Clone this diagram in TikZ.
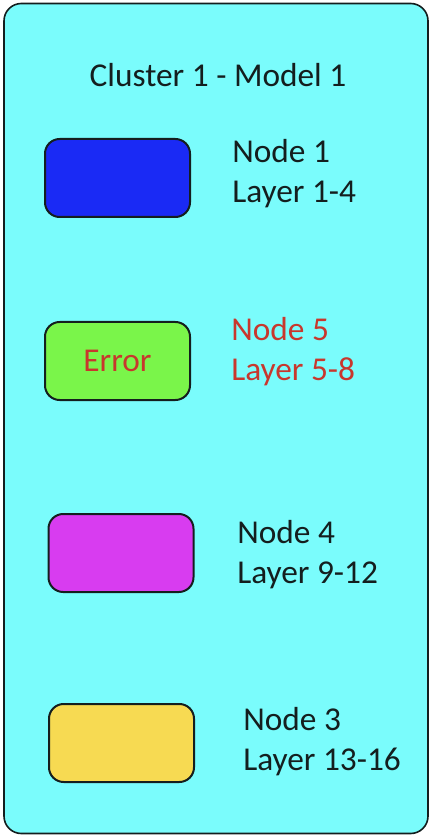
\documentclass[tikz,border=0pt]{standalone}
\usepackage{fontspec}
\setmainfont{Carlito}
\usepackage{tikz}
\definecolor{clCyan}{HTML}{7AFCFC}
\definecolor{clBlue}{HTML}{1A2AF5}
\definecolor{clGreen}{HTML}{7AF54A}
\definecolor{clMagenta}{HTML}{D83CF0}
\definecolor{clYellow}{HTML}{F7DA52}
\definecolor{clRed}{HTML}{C8372D}
\definecolor{clInk}{HTML}{141E1E}

\tikzset{
	gpubox/.style={draw=clInk,line width=1.5pt,rounded corners=11pt,minimum width=108.75pt,minimum height=58.5pt,inner sep=0pt},
	gpulabel/.style={anchor=west,align=left,font=\fontsize{25}{30}\selectfont,text=clInk,inner sep=0pt}
}

\begin{document}
\begin{tikzpicture}[x=0.75pt,y=-0.75pt]
		\useasboundingbox (0,0) rectangle (430,837);
		\node[draw=clInk,line width=1.2pt,fill=clCyan,rounded corners=13pt,minimum width=318pt,minimum height=622.5pt,inner sep=0pt] (cluster) at (216,418.5) {};
		\node[font=\fontsize{25}{30}\selectfont,text=clInk] (title) at (218,75) {Cluster 1 - Model 1};
		% node boxes
		\node[gpubox,fill=clBlue] (n1) at (117.5,178) {};
		\node[gpubox,fill=clGreen,text=clRed,font=\fontsize{25}{30}\selectfont] (n5) at (117.5,361) {Error};
		\node[gpubox,fill=clMagenta] (n4) at (121,553) {};
		\node[gpubox,fill=clYellow] (n3) at (121.5,743) {};
		% labels
		\node[gpulabel] (l1) at (232,174) {Node 1\\Layer 1-4};
		\node[gpulabel,text=clRed] (l5) at (231,352) {Node 5\\Layer 5-8};
		\node[gpulabel] (l4) at (237,555) {Node 4\\Layer 9-12};
		\node[gpulabel] (l3) at (243,742) {Node 3\\Layer 13-16};
	\end{tikzpicture}
\end{document}
